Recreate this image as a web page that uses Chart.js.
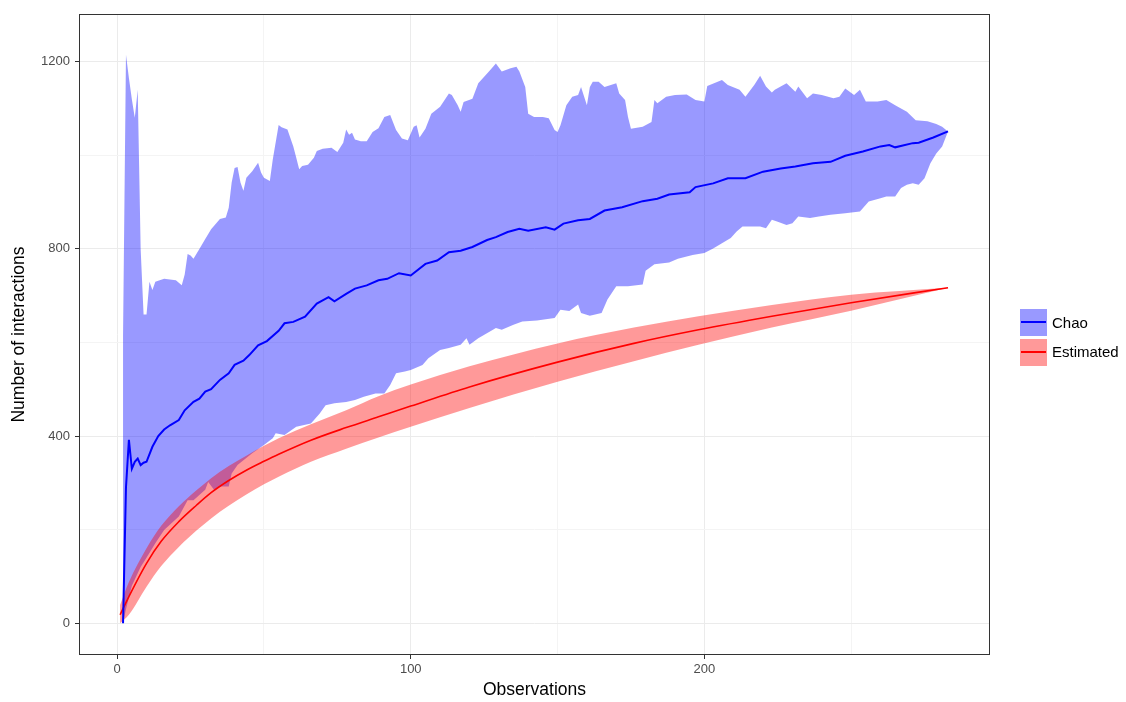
<!DOCTYPE html>
<html>
<head>
<meta charset="utf-8">
<script src="https://cdn.jsdelivr.net/npm/chart.js@4.4.0/dist/chart.umd.min.js"></script>
<style>
  body { margin: 0; background: #fff; font-family: "Liberation Sans", Arial, sans-serif; }
  #wrap { position: relative; width: 1126px; height: 702px; }
  .key { position: absolute; left: 1020px; width: 27px; height: 27px; }
  .key div { position: absolute; left: 1px; top: 12px; width: 25px; height: 2px; }
  .lab { position: absolute; left: 1052px; font-size: 15px; line-height: 18px; color: #000; }
</style>
</head>
<body>
<div id="wrap">
  <canvas id="myChart" width="1126" height="702"></canvas>
  <div class="key" style="top:309px;background:#9999FF"><div style="background:#0000FF"></div></div>
  <div class="lab" style="top:314px">Chao</div>
  <div class="key" style="top:339px;background:#FF9999"><div style="background:#FF0000"></div></div>
  <div class="lab" style="top:343px">Estimated</div>
</div>
<script>
// axis ticks (every other one is a minor grid line)
var xTicks = [0, 50, 100, 150, 200, 250];
var yTicks = [0, 200, 400, 600, 800, 1000, 1200];

// Estimated (rarefaction) curve and its band
var estX     = [1, 4, 10, 15, 21, 27, 32, 38, 44, 50, 55, 66, 78, 89, 100, 120, 150, 176, 198, 223, 250, 283];
var estLine  = [18, 57, 128, 175, 217, 252, 279, 305, 327, 346, 361, 391, 418, 441, 464, 505, 558, 598, 627, 656, 685, 717];
var estLower = [0, 18, 78, 122, 163, 198, 224, 251, 275, 297, 313, 345, 373, 397, 420, 460, 516, 560, 595, 632, 668, 717];
var estUpper = [39, 88, 160, 208, 250, 284, 310, 336, 358, 379, 395, 425, 455, 485, 510, 549, 598, 632, 656, 680, 702, 717];

// Chao estimate
var chaoX = [2, 3, 4, 5, 6, 7, 8, 9, 10, 12, 14, 16, 18, 21, 23, 26, 28, 30, 32, 35, 38, 40, 43, 45, 48, 51, 55, 57, 60, 64, 68, 72, 74, 78, 81, 85, 89, 92, 96, 100, 105, 109, 113, 117, 121, 126, 129, 133, 137, 140, 146, 149, 152, 157, 161, 166, 172, 179, 184, 188, 195, 197, 203, 208, 214, 220, 226, 231, 237, 243, 248, 254, 260, 263, 265, 271, 273, 278, 283];
var chaoLine = [0, 290, 392, 330, 345, 352, 338, 343, 345, 377, 400, 414, 423, 434, 455, 473, 480, 495, 500, 520, 534, 552, 561, 573, 594, 603, 625, 641, 644, 655, 683, 697, 688, 704, 715, 722, 733, 736, 748, 743, 768, 775, 793, 796, 804, 819, 825, 836, 843, 839, 846, 841, 854, 861, 864, 882, 889, 902, 907, 916, 921, 932, 940, 951, 951, 965, 972, 976, 983, 986, 999, 1008, 1019, 1022, 1017, 1026, 1027, 1038, 1051];

// Chao band, upper edge
var chaoUpX = [2, 3, 4, 5, 6, 7, 8, 9, 10, 11, 12, 13, 16, 20, 22, 23, 24, 25, 26, 28, 30, 32, 35, 37, 38, 39, 40, 41, 42, 43, 44, 46, 48, 49, 50, 52, 53, 55, 56, 58, 60, 61, 62, 63, 65, 67, 68, 70, 73, 75, 77, 78, 79, 80, 81, 83, 85, 87, 89, 91, 93, 95, 97, 99, 101, 102, 103, 105, 107, 110, 113, 114, 116, 117, 118, 121, 123, 125, 127, 129, 131, 134, 136, 137, 139, 140, 142, 145, 147, 149, 150, 151, 153, 155, 157, 158, 160, 161, 162, 164, 166, 170, 171, 173, 174, 175, 179, 182, 183, 184, 187, 190, 194, 197, 200, 201, 206, 208, 212, 214, 217, 219, 221, 223, 224, 228, 231, 232, 235, 237, 240, 244, 246, 248, 251, 253, 255, 259, 262, 265, 269, 272, 276, 279, 281, 283];
var chaoUp = [615, 1215, 1165, 1120, 1080, 1140, 800, 660, 660, 730, 712, 730, 736, 733, 722, 745, 789, 786, 779, 800, 821, 842, 864, 867, 888, 942, 973, 975, 942, 924, 952, 966, 984, 963, 952, 945, 991, 1065, 1060, 1055, 1019, 995, 970, 977, 980, 995, 1009, 1014, 1016, 1007, 1027, 1055, 1044, 1048, 1034, 1030, 1030, 1050, 1058, 1082, 1086, 1054, 1036, 1032, 1061, 1064, 1038, 1057, 1089, 1104, 1132, 1129, 1107, 1093, 1114, 1121, 1154, 1168, 1182, 1196, 1179, 1186, 1189, 1179, 1146, 1089, 1082, 1082, 1079, 1054, 1050, 1064, 1107, 1125, 1129, 1146, 1107, 1146, 1157, 1157, 1146, 1154, 1132, 1118, 1082, 1057, 1061, 1071, 1118, 1111, 1125, 1129, 1130, 1118, 1115, 1148, 1161, 1150, 1140, 1125, 1150, 1170, 1147, 1134, 1140, 1154, 1136, 1147, 1122, 1132, 1129, 1122, 1125, 1143, 1129, 1140, 1115, 1115, 1118, 1107, 1093, 1075, 1073, 1067, 1061, 1051];

// Chao band, lower edge
var chaoLoX = [2, 3, 5, 8, 10, 13, 16, 21, 24, 26, 30, 31, 33, 35, 38, 39, 41, 46, 50, 53, 54, 57, 61, 66, 69, 71, 74, 78, 81, 84, 88, 91, 93, 95, 98, 100, 104, 106, 110, 113, 117, 119, 120, 123, 128, 129, 131, 135, 138, 143, 149, 151, 154, 157, 158, 161, 165, 167, 170, 174, 179, 180, 183, 188, 191, 196, 200, 203, 206, 209, 211, 213, 219, 221, 223, 225, 228, 230, 232, 236, 239, 243, 248, 253, 256, 260, 262, 265, 267, 269, 271, 273, 275, 277, 279, 281, 283];
var chaoLo = [0, 30, 80, 120, 140, 171, 199, 228, 263, 263, 285, 302, 285, 292, 292, 320, 338, 363, 381, 395, 406, 402, 420, 427, 448, 466, 470, 473, 477, 484, 491, 491, 509, 534, 538, 541, 552, 566, 584, 588, 595, 609, 595, 609, 627, 631, 627, 638, 645, 647, 652, 670, 667, 681, 663, 657, 663, 692, 720, 720, 724, 753, 767, 771, 779, 787, 791, 801, 812, 823, 837, 848, 848, 844, 862, 858, 851, 855, 869, 866, 869, 873, 876, 880, 901, 908, 912, 912, 930, 937, 940, 937, 951, 983, 1004, 1019, 1051];

function pts(xs, ys) {
  return xs.map(function (x, i) { return { x: x, y: ys[i] }; });
}

var panelBorder = {
  id: "panelBorder",
  afterDraw: function (chart) {
    var a = chart.chartArea, ctx = chart.ctx;
    ctx.save();
    ctx.strokeStyle = "#333333";
    ctx.lineWidth = 1;
    ctx.strokeRect(a.left + 0.5, a.top + 0.5, a.right - a.left - 1, a.bottom - a.top - 1);
    ctx.restore();
  }
};

var tickFont = { family: "Liberation Sans", size: 13 };
var titleFont = { family: "Liberation Sans", size: 17.5 };

new Chart("myChart", {
  type: "line",
  data: {
    datasets: [
      { label: "Chao", data: pts(chaoX, chaoLine), borderColor: "#0000FF", borderWidth: 2, pointRadius: 0, fill: false },
      { label: "Estimated", data: pts(estX, estLine), borderColor: "#FF0000", borderWidth: 1.6, pointRadius: 0, fill: false, cubicInterpolationMode: "monotone" },
      { label: "estUpper", data: pts(estX, estUpper), borderWidth: 0, borderColor: "rgba(0,0,0,0)", pointRadius: 0, cubicInterpolationMode: "monotone", fill: "+1", backgroundColor: "rgba(255,0,0,0.4)" },
      { label: "estLower", data: pts(estX, estLower), borderWidth: 0, borderColor: "rgba(0,0,0,0)", pointRadius: 0, cubicInterpolationMode: "monotone", fill: false },
      { label: "chaoUp", data: pts(chaoUpX, chaoUp), borderWidth: 0, borderColor: "rgba(0,0,0,0)", pointRadius: 0, fill: "+1", backgroundColor: "rgba(0,0,255,0.4)" },
      { label: "chaoLo", data: pts(chaoLoX, chaoLo), borderWidth: 0, borderColor: "rgba(0,0,0,0)", pointRadius: 0, fill: false }
    ]
  },
  options: {
    responsive: false,
    animation: false,
    devicePixelRatio: 1,
    layout: { padding: { top: 14, right: 136, left: 0, bottom: 0 } },
    plugins: { legend: { display: false }, tooltip: { enabled: false } },
    scales: {
      x: {
        type: "linear",
        min: -13,
        max: 297.3,
        afterBuildTicks: function (s) { s.ticks = xTicks.map(function (v) { return { value: v }; }); },
        afterFit: function (s) { s.height = 47; },
        ticks: {
          autoSkip: false, maxRotation: 0, padding: 3, color: "#4D4D4D", font: tickFont,
          callback: function (v) { return v % 100 === 0 ? v : ""; }
        },
        grid: {
          color: function (c) { return c.tick && c.tick.value % 100 === 0 ? "#EBEBEB" : "#F4F4F4"; },
          tickColor: function (c) { return c.tick && c.tick.value % 100 === 0 ? "#333333" : "rgba(0,0,0,0)"; },
          tickLength: 4
        },
        border: { display: false },
        title: { display: true, text: "Observations", color: "#000", font: titleFont, padding: { top: 0, bottom: 1 } }
      },
      y: {
        type: "linear",
        min: -68,
        max: 1302,
        afterBuildTicks: function (s) { s.ticks = yTicks.map(function (v) { return { value: v }; }); },
        afterFit: function (s) { s.width = 79; },
        ticks: {
          autoSkip: false, padding: 5, color: "#4D4D4D", font: tickFont,
          callback: function (v) { return v % 400 === 0 ? v : ""; }
        },
        grid: {
          color: function (c) { return c.tick && c.tick.value % 400 === 0 ? "#EBEBEB" : "#F4F4F4"; },
          tickColor: function (c) { return c.tick && c.tick.value % 400 === 0 ? "#333333" : "rgba(0,0,0,0)"; },
          tickLength: 4
        },
        border: { display: false },
        title: { display: true, text: "Number of interactions", color: "#000", font: titleFont, padding: { top: 9, bottom: 0 } }
      }
    }
  },
  plugins: [panelBorder]
});
</script>
</body>
</html>
